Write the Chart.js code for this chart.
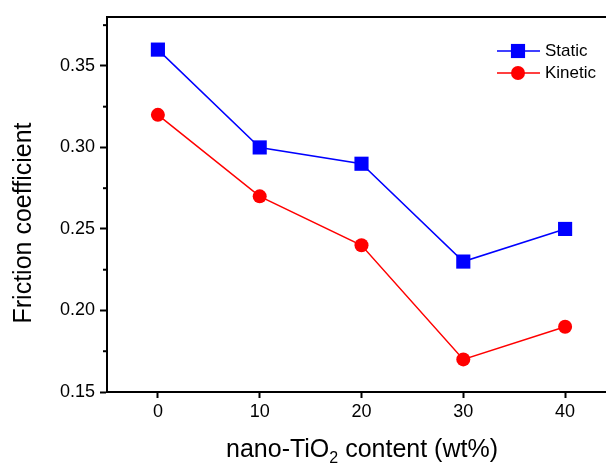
<!DOCTYPE html>
<html>
<head>
<meta charset="utf-8">
<script src="https://cdn.jsdelivr.net/npm/chart.js@4.4.0/dist/chart.umd.min.js"></script>
<style>
  html, body { margin: 0; padding: 0; background: #fff; overflow: hidden; }
  #wrap { width: 606px; height: 470px; overflow: hidden; }
</style>
</head>
<body>
<div id="wrap"><canvas id="myChart" width="640" height="470"></canvas></div>
<script>
// DATA
const contents = [0, 10, 20, 30, 40];
const staticFriction = [0.36, 0.30, 0.29, 0.23, 0.25];
const kineticFriction = [0.32, 0.27, 0.24, 0.17, 0.19];
const seriesNames = ['Static', 'Kinetic'];
const xTitle = ['nano-TiO', '2', ' content (wt%)'];
const yTitle = 'Friction coefficient';

const FONT = "'Liberation Sans', Arial, sans-serif";

// points for the line chart
function toPoints(vals) {
    return contents.map((c, i) => ({ x: c, y: vals[i] }));
}

function isMajor(v) {
    return Math.abs(Math.round(v / 0.05) * 0.05 - v) < 1e-6;
}

// top frame line, minor y ticks, axis titles, legend
const extras = {
    id: 'extras',
    afterDraw(chart) {
        const c = chart.ctx;
        const a = chart.chartArea;
        const ys = chart.scales.y;
        c.save();
        c.strokeStyle = '#000';
        c.lineWidth = 2;
        c.beginPath();
        c.moveTo(a.left - 1, a.top);
        c.lineTo(chart.width, a.top);
        c.stroke();

        // minor ticks
        ys.ticks.forEach(t => {
            if (!isMajor(t.value)) {
                const py = ys.getPixelForValue(t.value);
                c.beginPath();
                c.moveTo(a.left - 4, py);
                c.lineTo(a.left, py);
                c.stroke();
            }
        });

        // x title with subscript
        c.fillStyle = '#000';
        c.textBaseline = 'alphabetic';
        const big = '25px ' + FONT, small = '16px ' + FONT;
        c.font = big;
        const w1 = c.measureText(xTitle[0]).width;
        const w3 = c.measureText(xTitle[2]).width;
        c.font = small;
        const w2 = c.measureText(xTitle[1]).width;
        let x0 = 362 - (w1 + w2 + w3) / 2;
        const base = 457;
        c.font = big;
        c.fillText(xTitle[0], x0, base);
        c.font = small;
        c.fillText(xTitle[1], x0 + w1, base + 6);
        c.font = big;
        c.fillText(xTitle[2], x0 + w1 + w2, base);

        // y title
        c.translate(24, 223);
        c.rotate(-Math.PI / 2);
        c.textAlign = 'center';
        c.textBaseline = 'middle';
        c.font = big;
        c.fillText(yTitle, 0, 0);
        c.restore();

        // legend
        c.save();
        chart.data.datasets.forEach((ds, i) => {
            const ly = 51 + i * 22;
            c.strokeStyle = ds.borderColor;
            c.lineWidth = ds.borderWidth;
            c.beginPath();
            c.moveTo(497, ly);
            c.lineTo(540, ly);
            c.stroke();
            c.fillStyle = ds.backgroundColor;
            c.beginPath();
            if (ds.pointStyle === 'rect') {
                const s = ds.pointRadius * Math.SQRT1_2;
                c.rect(518 - s, ly - s, 2 * s, 2 * s);
            } else {
                c.arc(518, ly, ds.pointRadius, 0, Math.PI * 2);
            }
            c.fill();
            c.fillStyle = '#000';
            c.font = '17px ' + FONT;
            c.textBaseline = 'middle';
            c.fillText(ds.label, 545, ly);
        });
        c.restore();
    }
};

const ctx = document.getElementById('myChart').getContext('2d');
const chart = new Chart(ctx, {
    type: 'line',
    data: {
        datasets: [{
            label: seriesNames[0],
            data: toPoints(staticFriction),
            borderColor: '#0000ff',
            backgroundColor: '#0000ff',
            borderWidth: 1.5,
            pointStyle: 'rect',
            pointRadius: 10,
            pointBorderWidth: 0
        }, {
            label: seriesNames[1],
            data: toPoints(kineticFriction),
            borderColor: '#ff0000',
            backgroundColor: '#ff0000',
            borderWidth: 1.5,
            pointStyle: 'circle',
            pointRadius: 7,
            pointBorderWidth: 0
        }]
    },
    options: {
        responsive: false,
        animation: false,
        layout: { padding: { top: 17, right: 24, left: 0, bottom: 0 } },
        plugins: { legend: { display: false }, tooltip: { enabled: false } },
        scales: {
            x: {
                type: 'linear',
                min: -5,
                max: 45,
                afterBuildTicks: s => { s.ticks = contents.map(v => ({ value: v })); },
                ticks: { font: { size: 18, family: FONT }, color: '#000', padding: 3 },
                grid: { drawOnChartArea: false, tickLength: 6, tickWidth: 2, color: '#000' },
                border: { color: '#000', width: 2 },
                afterFit: s => { s.height = 78; }
            },
            y: {
                min: 0.15,
                max: 0.38,
                afterBuildTicks: s => {
                    const t = [];
                    for (let k = 0; k <= 9; k++) t.push({ value: 0.15 + k * 0.025 });
                    s.ticks = t;
                },
                ticks: {
                    font: { size: 18, family: FONT },
                    color: '#000',
                    padding: 5,
                    callback: v => isMajor(v) ? v.toFixed(2) : ''
                },
                grid: {
                    drawOnChartArea: false,
                    tickLength: 7,
                    tickWidth: 2,
                    color: c => (c.tick && isMajor(c.tick.value)) ? '#000' : 'rgba(0,0,0,0)'
                },
                border: { color: '#000', width: 2 },
                afterFit: s => { s.width = 107; }
            }
        }
    },
    plugins: [extras]
});
</script>
</body>
</html>
